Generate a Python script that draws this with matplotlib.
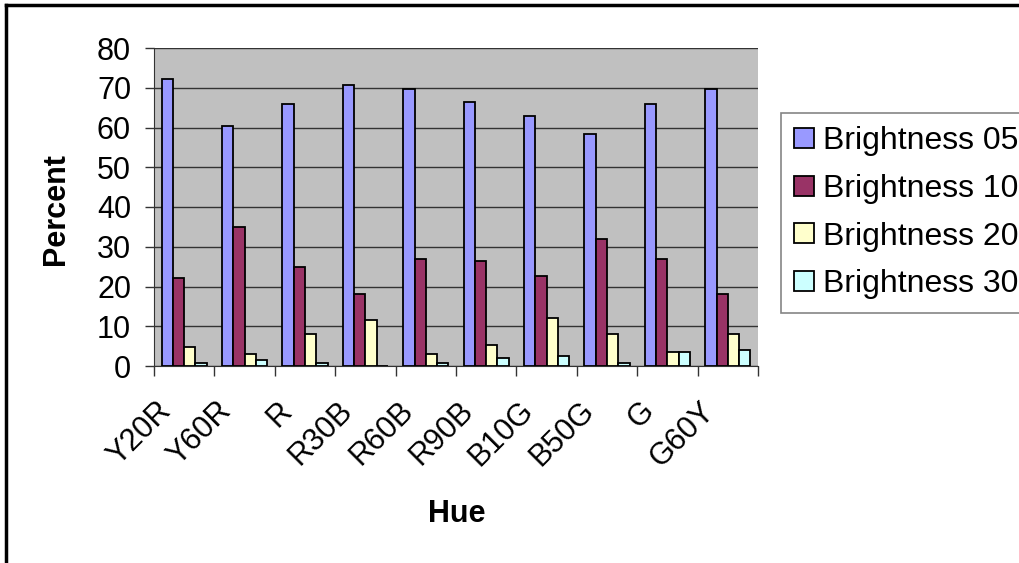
import numpy as np
import matplotlib.pyplot as plt
import matplotlib.transforms as mtransforms
from matplotlib.lines import Line2D

plt.rcParams['font.family'] = ['Liberation Sans', 'DejaVu Sans']

hues = ["Y20R", "Y60R", "R", "R30B", "R60B", "R90B", "B10G", "B50G", "G", "G60Y"]
b05 = [72.1, 60.4, 66.0, 70.6, 69.6, 66.5, 63.0, 58.4, 66.0, 69.6]
b10 = [22.2, 35.0, 24.8, 18.2, 26.8, 26.3, 22.7, 31.9, 26.8, 18.2]
b20 = [4.9, 2.9, 8.0, 11.5, 2.9, 5.4, 12.0, 8.0, 3.4, 8.0]
b30 = [0.85, 1.4, 0.85, 0.0, 0.85, 1.9, 2.4, 0.85, 3.4, 3.9]
series = [b05, b10, b20, b30]
names = ["Brightness 05", "Brightness 10", "Brightness 20", "Brightness 30"]
colors = ["#9999FF", "#993366", "#FFFFCC", "#CCFFFF"]

fs = 22

fig = plt.figure(figsize=(10.19, 5.63), dpi=100)
ax = fig.add_axes([154/1019, 1 - 366/563, (758-154)/1019, (366-48)/563])
ax.set_facecolor("#C0C0C0")

x = np.arange(len(hues))
w = 0.187
for i, (vals, nm, c) in enumerate(zip(series, names, colors)):
    ax.bar(x + (i - 1.5) * w, vals, w, color=c, edgecolor="black", linewidth=1.3,
           label=nm, zorder=3)

ax.set_xlim(-0.5, len(hues) - 0.5)
ax.set_ylim(0, 80)
ax.set_yticks(range(0, 81, 10))
ax.yaxis.grid(True, color="#333333", linewidth=1, zorder=1)
ax.set_axisbelow(True)

# tick marks between categories, category names below, rotated
ax.set_xticks(np.arange(-0.5, len(hues)))
ax.set_xticklabels([])
ax.tick_params(axis="x", length=7, width=1, color="#333333")
ax.tick_params(axis="y", length=6.5, width=1, color="#333333", labelsize=fs, pad=10)
off = mtransforms.ScaledTranslation(-0.28, -0.30, fig.dpi_scale_trans)
for xi, h in zip(x, hues):
    ax.text(xi, 0, h, transform=ax.get_xaxis_transform() + off, fontsize=fs,
            rotation=45, ha="right", va="top", rotation_mode="anchor")

for s in ["top", "right"]:
    ax.spines[s].set_visible(False)
ax.spines["left"].set_color("#333333")
ax.spines["bottom"].set_color("#333333")

ax.set_xlabel("Hue", fontsize=fs, fontweight="bold", va="center")
ax.xaxis.set_label_coords(0.502, -0.465)
ax.set_ylabel("Percent", fontsize=fs, fontweight="bold", va="center")
ax.yaxis.set_label_coords(-0.163, 0.495)

handles = [plt.Rectangle((0, 0), 1, 1, facecolor=c, edgecolor="black", linewidth=1.3)
           for c in colors]
leg = fig.legend(handles, names, loc="upper left", bbox_to_anchor=(781/1019, 1 - 113/563),
                 fontsize=23, frameon=True, fancybox=False, edgecolor="#666666",
                 handlelength=0.6, handleheight=0.6, handletextpad=0.3,
                 labelspacing=0.55, borderpad=0.42, borderaxespad=0)
leg.get_frame().set_linewidth(1.2)

# outer chart border (top and left visible)
fig.add_artist(Line2D([6/1019, 6/1019], [0, 1 - 5/563], color="black", linewidth=2.5,
                      transform=fig.transFigure))
fig.add_artist(Line2D([6/1019, 1], [1 - 5/563, 1 - 5/563], color="black", linewidth=2.5,
                      transform=fig.transFigure))

fig.savefig("out.png", dpi=100)
